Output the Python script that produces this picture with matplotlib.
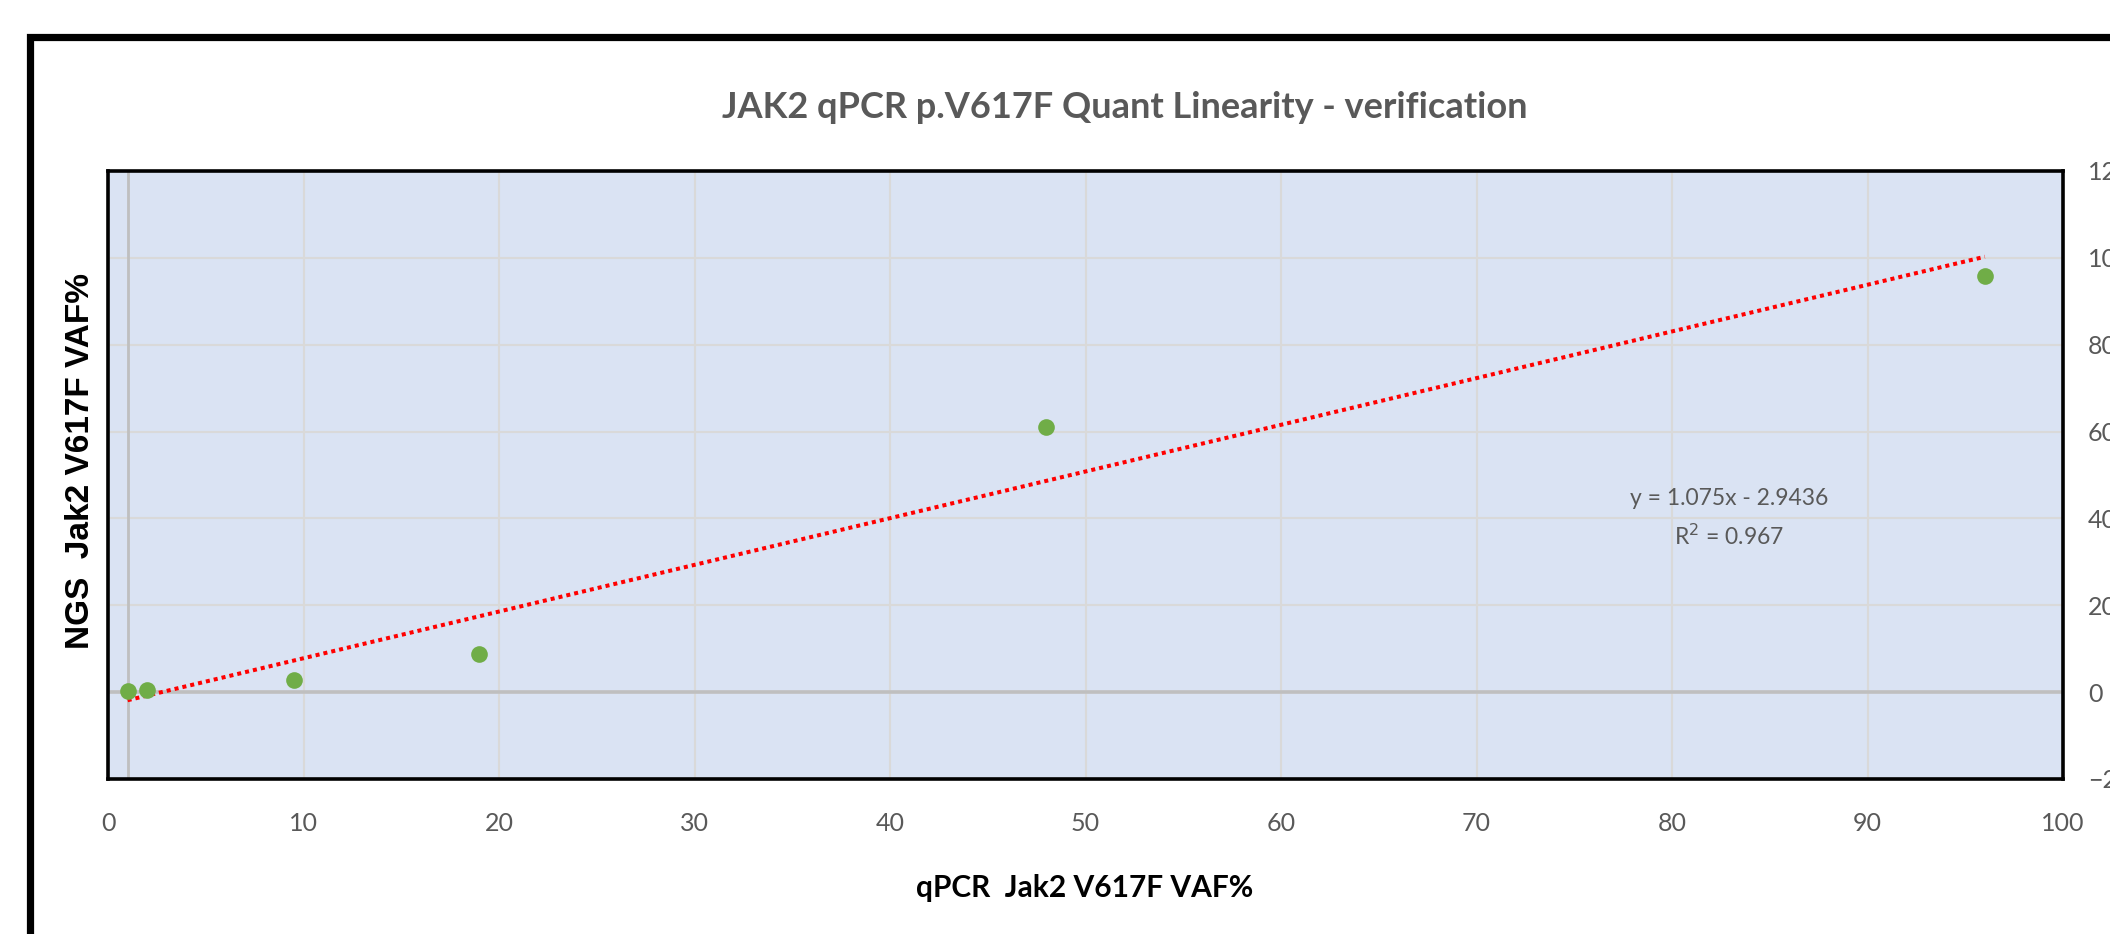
import matplotlib.pyplot as plt
from matplotlib.patches import Rectangle

# values
qpcr_vaf = [1, 2, 9.5, 19, 48, 96]
ngs_vaf = [0.3, 0.5, 2.8, 8.7, 61, 95.8]

# excel trendline as printed on the chart
slope = 1.075
intercept = -2.9436
r_squared = 0.967

x_ticks = [0, 10, 20, 30, 40, 50, 60, 70, 80, 90, 100]
y_ticks = [-20, 0, 20, 40, 60, 80, 100, 120]

title = "JAK2 qPCR p.V617F Quant Linearity - verification"
x_label = "qPCR  Jak2 V617F VAF%"
y_label = "NGS  Jak2 V617F VAF%"

W, H = 2110, 934
fig = plt.figure(figsize=(W / 100, H / 100), dpi=100)

# outer chart frame, runs off the right and bottom of the picture
frame = Rectangle((30 / W, -0.2), 1.2, 1.2 - 37 / H, transform=fig.transFigure,
                  fill=False, edgecolor='black', linewidth=5.2, clip_on=False)
fig.patches.append(frame)

ax = fig.add_axes([108 / W, 155 / H, (2063 - 108) / W, 608 / H])
ax.set_facecolor('#DAE3F3')
ax.set_xlim(0, 100)
ax.set_ylim(-20, 120)

ax.set_xticks(x_ticks)
ax.set_yticks(y_ticks)
ax.grid(True, color='#D9D9D9', linewidth=1.5, zorder=0)
ax.set_axisbelow(True)

# axis lines where excel draws them (x axis at y=0, y axis at x=1)
ax.axhline(0, color='#BFBFBF', linewidth=2.6, zorder=1)
ax.axvline(1, color='#BFBFBF', linewidth=2.0, zorder=1)

for s in ax.spines.values():
    s.set_linewidth(2.6)
    s.set_color('black')

ax.tick_params(axis='both', length=0, labelsize=18, labelcolor='#595959')
ax.tick_params(axis='x', pad=24)
ax.tick_params(axis='y', left=False, labelleft=False, right=False, labelright=True, pad=18)
for lab in ax.get_xticklabels() + ax.get_yticklabels():
    lab.set_fontfamily('Lato')

# trendline over the data range
x_fit = [min(qpcr_vaf), max(qpcr_vaf)]
y_fit = [slope * v + intercept for v in x_fit]
ax.plot(x_fit, y_fit, color='#FF0000', linestyle=(0, (1, 1)), linewidth=2.9, zorder=3)

ax.plot(qpcr_vaf, ngs_vaf, 'o', color='#70AD47', markersize=12, markeredgewidth=0, zorder=4)

ax.text(82.9, 40, "y = %.3fx - %.4f\nR$^2$ = %.3f" % (slope, -intercept, r_squared),
        ha='center', va='center', fontsize=16.5, color='#595959', family='Lato',
        linespacing=1.65, zorder=5)

fig.text(1125 / W, 1 - 108 / H, title, ha='center', va='center', fontsize=26,
         fontweight='bold', color='#595959', family='Lato')
fig.text(1085 / W, 1 - 888 / H, x_label, ha='center', va='center', fontsize=21.5,
         fontweight='bold', color='black', family='Lato')
fig.text(81 / W, 1 - 461 / H, y_label, ha='center', va='center', rotation=90,
         fontsize=24, fontweight='bold', color='black', family='Liberation Sans')

fig.savefig('out.png', dpi=100)
